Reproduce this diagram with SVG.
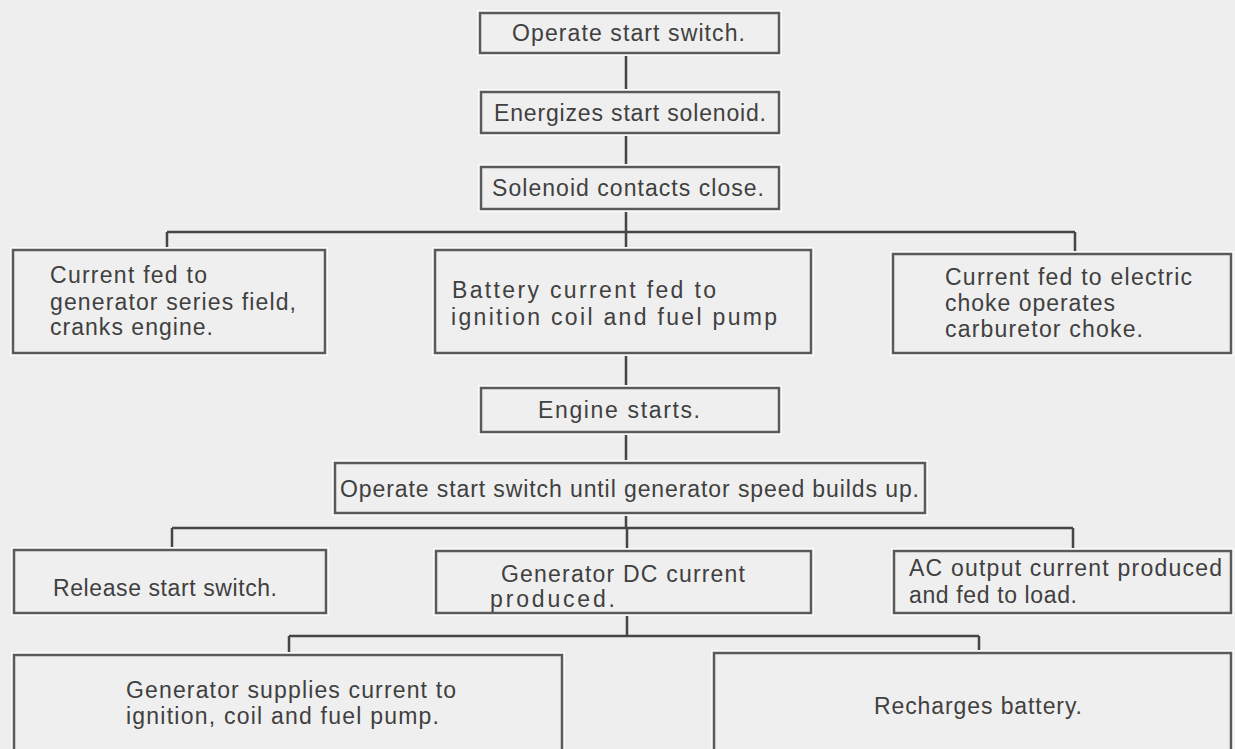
<svg xmlns="http://www.w3.org/2000/svg" width="1235" height="749" viewBox="0 0 1235 749">
<style>
.bg{fill:#eeeeee}
.halo{fill:none;stroke:#fbfbfb;stroke-width:6}
.box{fill:#efefef;stroke:#5a5a5a;stroke-width:2.5}
.t{font-family:"Liberation Sans",Arial,Helvetica,sans-serif;font-size:23px;fill:#404040}
.c{fill:none;stroke:#454545;stroke-width:2.5}
</style>
<rect class="bg" x="0" y="0" width="1235" height="749"/>
<g id="connectors">
<path class="c" d="M626 53V92M626 133V167M626 209V232M167 232H1075M167 232V250M626 232V250M1075 232V254"/>
<path class="c" d="M626 353V388M626 432V463M626 513V528M172 528H1073M172 528V550M627 528V551M1073 528V551"/>
<path class="c" d="M627 613V636M289 636H979M289 636V655M979 636V653"/>
</g>
<g id="n1"><rect class="halo" x="480" y="13" width="299" height="40"/><rect class="box" x="480" y="13" width="299" height="40"/><text class="t" x="512" y="41" textLength="233" lengthAdjust="spacing">Operate start switch.</text></g>
<g id="n2"><rect class="halo" x="481" y="92" width="298" height="41"/><rect class="box" x="481" y="92" width="298" height="41"/><text class="t" x="494" y="121" textLength="272" lengthAdjust="spacing">Energizes start solenoid.</text></g>
<g id="n3"><rect class="halo" x="481" y="167" width="298" height="42"/><rect class="box" x="481" y="167" width="298" height="42"/><text class="t" x="492" y="196" textLength="272" lengthAdjust="spacing">Solenoid contacts close.</text></g>
<g id="n4"><rect class="halo" x="13" y="250" width="312" height="103"/><rect class="box" x="13" y="250" width="312" height="103"/>
<text class="t" x="50" y="283" textLength="157" lengthAdjust="spacing">Current fed to</text>
<text class="t" x="50" y="310" textLength="246" lengthAdjust="spacing">generator series field,</text>
<text class="t" x="50" y="335" textLength="163" lengthAdjust="spacing">cranks engine.</text></g>
<g id="n5"><rect class="halo" x="435" y="250" width="376" height="103"/><rect class="box" x="435" y="250" width="376" height="103"/>
<text class="t" x="452" y="298" textLength="264" lengthAdjust="spacing">Battery current fed to</text>
<text class="t" x="451" y="325" textLength="326" lengthAdjust="spacing">ignition coil and fuel pump</text></g>
<g id="n6"><rect class="halo" x="893" y="254" width="338" height="99"/><rect class="box" x="893" y="254" width="338" height="99"/>
<text class="t" x="945" y="285" textLength="247" lengthAdjust="spacing">Current fed to electric</text>
<text class="t" x="945" y="311" textLength="170" lengthAdjust="spacing">choke operates</text>
<text class="t" x="945" y="337" textLength="198" lengthAdjust="spacing">carburetor choke.</text></g>
<g id="n7"><rect class="halo" x="481" y="388" width="298" height="44"/><rect class="box" x="481" y="388" width="298" height="44"/><text class="t" x="538" y="418" textLength="162" lengthAdjust="spacing">Engine starts.</text></g>
<g id="n8"><rect class="halo" x="335" y="463" width="590" height="50"/><rect class="box" x="335" y="463" width="590" height="50"/><text class="t" x="340" y="497" textLength="579" lengthAdjust="spacing">Operate start switch until generator speed builds up.</text></g>
<g id="n9"><rect class="halo" x="14" y="550" width="312" height="63"/><rect class="box" x="14" y="550" width="312" height="63"/><text class="t" x="53" y="596" textLength="224" lengthAdjust="spacing">Release start switch.</text></g>
<g id="n10"><rect class="halo" x="436" y="551" width="375" height="62"/><rect class="box" x="436" y="551" width="375" height="62"/>
<text class="t" x="501" y="582" textLength="244" lengthAdjust="spacing">Generator DC current</text>
<text class="t" x="490" y="607" textLength="125" lengthAdjust="spacing">produced.</text></g>
<g id="n11"><rect class="halo" x="894" y="551" width="337" height="62"/><rect class="box" x="894" y="551" width="337" height="62"/>
<text class="t" x="909" y="576" textLength="313" lengthAdjust="spacing">AC output current produced</text>
<text class="t" x="909" y="603" textLength="168" lengthAdjust="spacing">and fed to load.</text></g>
<g id="n12"><rect class="halo" x="14" y="655" width="548" height="110"/><rect class="box" x="14" y="655" width="548" height="110"/>
<text class="t" x="126" y="698" textLength="330" lengthAdjust="spacing">Generator supplies current to</text>
<text class="t" x="126" y="724" textLength="313" lengthAdjust="spacing">ignition, coil and fuel pump.</text></g>
<g id="n13"><rect class="halo" x="714" y="653" width="517" height="112"/><rect class="box" x="714" y="653" width="517" height="112"/>
<text class="t" x="874" y="714" textLength="208" lengthAdjust="spacing">Recharges battery.</text></g>
</svg>
